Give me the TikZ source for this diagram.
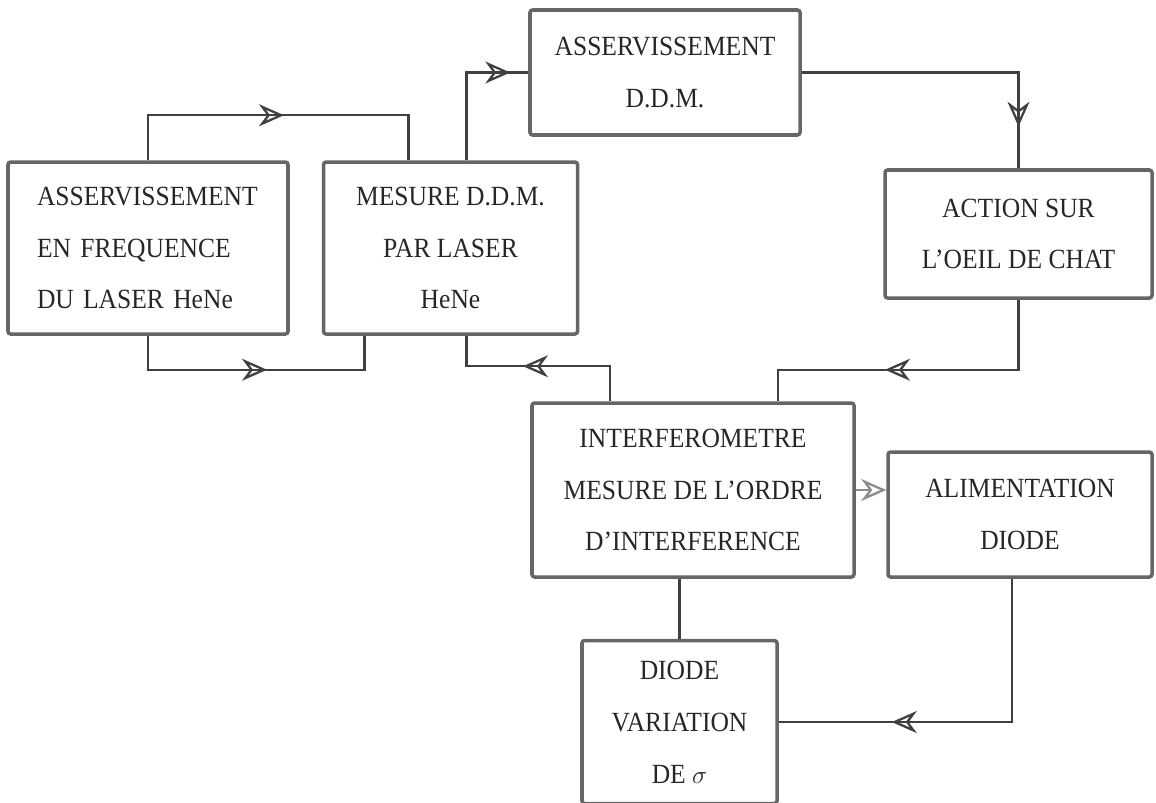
\documentclass[tikz,border=0pt]{standalone}
\usepackage{fontspec}
\setmainfont{Liberation Serif}[FakeStretch=0.92]
\usetikzlibrary{positioning, arrows.meta, decorations.markings}

\begin{document}
\begin{tikzpicture}[
    thick,
    >={Stealth[open, length=5mm, width=4.4mm, line width=1.3pt]},
    bloc/.style={rectangle, draw=black!60, line width=2pt, rounded corners=1.5pt, align=center, text=black!85, font=\fontsize{15.8}{29.5}\selectfont, inner sep=0pt},
    lien/.style={draw=black!75, line width=1.4pt},
    fleche/.style={postaction={decorate}, decoration={markings, mark=at position #1 with {\arrow{>}}}}
  ]

  % cadre de la page
  \useasboundingbox (0,0) rectangle (23.12,-16.04);

  % --- LES BLOCS ---

  % boucle du laser HeNe
  \node[bloc, minimum width=5.6cm, minimum height=3.44cm, align=left, text width=4.44cm, inner xsep=0.58cm] (asfreq) at (2.96,-4.96) {ASSERVISSEMENT\\EN FREQUENCE\\DU LASER HeNe};
  \node[bloc, minimum width=5.08cm, minimum height=3.44cm, right=0.64cm of asfreq] (mesure) {MESURE D.D.M.\\PAR LASER\\HeNe};

  % asservissement de la difference de marche
  \node[bloc, minimum width=5.4cm, minimum height=2.5cm] (ddm) at (13.3,-1.45) {ASSERVISSEMENT\\D.D.M.};
  \node[bloc, minimum width=5.34cm, minimum height=2.56cm] (oeil) at (20.37,-4.68) {ACTION SUR\\L'OEIL DE CHAT};

  % interferometre et diode
  \node[bloc, minimum width=6.44cm, minimum height=3.48cm] (inter) at (13.86,-9.8) {INTERFEROMETRE\\MESURE DE L'ORDRE\\D'INTERFERENCE};
  \node[bloc, minimum width=5.28cm, minimum height=2.5cm] (ali) at (20.4,-10.29) {ALIMENTATION\\DIODE};
  \node[bloc, minimum width=3.9cm, minimum height=3.26cm, below=1.2cm of inter.south, xshift=-0.27cm] (varia) {DIODE\\VARIATION\\DE $\sigma$};

  % --- LES LIAISONS ---

  % entre les deux blocs du laser
  \draw[lien, fleche=3.62cm] (asfreq.north) -- ++(0,0.9) -| ([xshift=-0.84cm]mesure.north);
  \draw[lien, fleche=3.06cm] (asfreq.south) -- ++(0,-0.68) -| ([xshift=-1.72cm]mesure.south);

  % vers l'asservissement puis l'oeil de chat
  \draw[lien, fleche=2.63cm] ([xshift=0.32cm]mesure.north) |- (ddm.west);
  \draw[lien, fleche=5.42cm] (ddm.east) -| (oeil.north);

  % retour vers l'interferometre
  \draw[lien, fleche=4.07cm] (oeil.south) -- ++(0,-1.4) -| ([xshift=1.7cm]inter.north);
  \draw[lien, fleche=2.44cm] ([xshift=-1.66cm]inter.north) -- ++(0,0.7) -| ([xshift=0.32cm]mesure.south);

  % alimentation de la diode
  \draw[lien, draw=black!45, ->] (inter.east) -- (inter.east -| ali.west);
  \draw[lien, fleche=5.27cm] ([xshift=-0.16cm]ali.south) |- (varia.east);
  \draw[lien] (inter.south -| varia.north) -- (varia.north);

\end{tikzpicture}
\end{document}
